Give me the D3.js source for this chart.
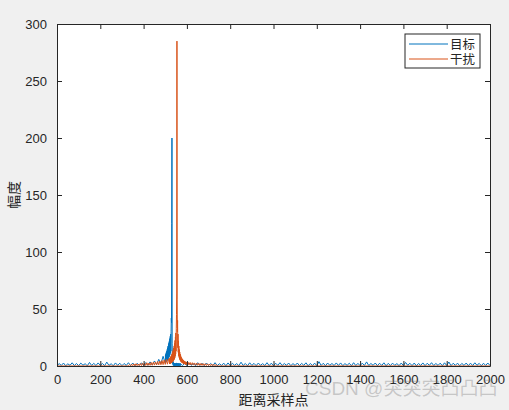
<!DOCTYPE html>
<html><head><meta charset="utf-8">
<script src="https://cdn.jsdelivr.net/npm/d3@7"></script>
<style>html,body{margin:0;padding:0;background:#f0f0f0;}svg{display:block;}</style>
</head><body>
<script>
// ---- data ----
const seriesNames = ["目标", "干扰"];
const xTicks = [0,200,400,600,800,1000,1200,1400,1600,1800,2000];
const yTicks = [0,50,100,150,200,250,300];
// blue (目标) background noise, samples 0..2000 step 10
const blueBase = [
0.3,2.1,0.5,2.6,0.2,1.9,0.6,2.8,0.4,2.2,
0.3,2.5,0.7,2.0,0.2,3.1,0.5,2.3,0.4,2.7,
0.6,2.2,0.3,3.4,0.5,2.0,0.2,2.7,0.6,2.4,
0.3,2.2,0.5,2.9,0.4,2.6,0.2,2.3,0.5,2.8,
0.4,3.0,0.6,3.6,0.8,4.4,1.2,5.8,2.0,8.5,
0,0,0,0,0,0,0,0,0.4,2.3,
0.3,2.5,0.6,2.1,0.2,2.9,0.5,2.4,0.3,2.6,
0.6,2.2,0.4,2.9,0.3,2.0,0.5,2.5,0.2,2.7,
0.4,2.4,0.6,2.1,0.3,3.3,0.5,2.2,0.2,2.8,
0.5,2.3,0.3,2.6,0.6,2.1,0.4,2.9,0.3,2.5,
0.2,2.4,0.5,2.9,0.4,2.2,0.6,2.6,0.3,2.1,
0.5,2.6,0.3,2.3,0.6,2.8,0.2,2.2,0.4,2.5,
0.3,3.8,0.5,2.4,0.2,2.6,0.6,2.2,0.4,2.7,
0.5,2.7,0.3,2.1,0.6,2.4,0.2,2.9,0.4,2.3,
0.3,2.5,0.5,3.6,0.4,2.2,0.6,2.6,0.3,2.4,
0.5,2.8,0.2,2.3,0.4,2.5,0.6,2.1,0.3,2.6,
0.4,3.1,0.6,2.4,0.3,2.6,0.2,2.2,0.5,2.7,
0.3,2.4,0.6,2.9,0.4,2.2,0.5,2.5,0.2,2.8,
0.4,3.5,0.3,2.4,0.6,2.5,0.2,2.3,0.5,2.6,
0.3,2.5,0.4,2.8,0.6,2.3,0.2,2.4,0.5,2.6,
0.4];
// blue peak region, samples 500..570 step 1
const bluePeak = [
2.5,9.5,3.0,10.8,3.6,11.9,4.0,13.0,4.6,14.5,
5.0,16.0,5.8,17.5,6.4,19.0,7.2,20.5,8.0,22.0,
9.0,24.0,10.0,26.0,11.5,28.0,13.0,30.0,42.0,38.0,
125,200,20,3.0,6.0,1.5,4.0,0.6,3.2,0.4,
2.1,0.3,2.6,0.5,1.8,0.2,2.4,0.6,2.2,0.3,
1.9,0.4,2.7,0.5,2.1,0.3,2.3,0.6,2.0,0.2,
2.5,0.4,1.8,0.3,2.2,0.5,1.6,0.4,2.4,0.2,
1.9];
// orange (干扰) noise, samples 330..515 step 5
const orangeLeft = [
0.2,1.2,0.2,1.5,0.3,1.8,0.3,2.0,0.3,1.7,
0.4,2.2,0.4,2.5,0.5,2.4,0.5,2.8,0.6,2.6,
0.6,3.1,0.7,3.3,0.8,3.6,0.9,3.9,1.0,4.3,
1.1,4.8,1.2,5.2,1.4,5.8,1.6,6.3];
// orange peak region, samples 520..600 step 1
const orangePeak = [
1.8,6.8,2.0,7.4,2.2,8.0,2.4,8.8,2.7,9.6,
3.0,10.5,3.3,11.6,3.7,12.8,4.1,14.2,4.6,15.8,
5.2,17.6,6.0,19.8,7.0,22.4,8.5,25.5,10.5,29.0,
13.0,33.0,45.0,64.0,285,58.0,30.0,40.0,16.0,28.0,
12.0,22.0,9.0,17.5,7.5,14.5,6.2,12.2,5.3,10.5,
4.6,9.2,4.0,8.1,3.6,7.3,3.2,6.6,2.9,6.0,
2.6,5.5,2.4,5.1,2.2,4.7,2.0,4.4,1.9,4.1,
1.7,3.9,1.6,3.7,1.5,3.5,1.4,3.3,1.3,3.2,1.2];
// orange noise, samples 605..740 step 5
const orangeRight = [
3.4,1.0,3.1,0.9,2.9,0.8,2.7,0.7,2.6,0.6,
2.4,0.6,2.3,0.5,2.1,0.5,2.0,0.4,1.9,0.4,
1.7,0.3,1.6,0.3,1.4,0.2,1.2,0.2];

// ---- assemble series (sample index, value) ----
let blue = [];
blueBase.forEach((v,i)=>{ const s=i*10; if(s<500||s>570) blue.push([s,v]); });
bluePeak.forEach((v,i)=>blue.push([500+i,v]));
blue.sort((a,b)=>a[0]-b[0]);
let orange = [[0,0],[325,0]];
orangeLeft.forEach((v,i)=>orange.push([330+i*5,v]));
orangePeak.forEach((v,i)=>orange.push([520+i,v]));
orangeRight.forEach((v,i)=>orange.push([605+i*5,v]));
orange.push([745,0],[2000,0]);

// ---- drawing ----
const W=509,H=410;
const m={l:57,r:490,t:24,b:366};
const svg=d3.select("body").append("svg").attr("width",W).attr("height",H);
svg.append("rect").attr("width",W).attr("height",H).attr("fill","#f0f0f0");
svg.append("rect").attr("x",m.l).attr("y",m.t).attr("width",m.r-m.l).attr("height",m.b-m.t).attr("fill","#fff");

const x=d3.scaleLinear().domain([0,2000]).range([m.l,m.r]);
const y=d3.scaleLinear().domain([0,300]).range([m.b,m.t]);

svg.append("clipPath").attr("id","c").append("rect")
  .attr("x",m.l).attr("y",m.t).attr("width",m.r-m.l).attr("height",m.b-m.t);
const line=d3.line().x(d=>x(d[0])).y(d=>y(d[1]));
const g=svg.append("g").attr("clip-path","url(#c)");
g.append("path").datum(blue).attr("d",line).attr("fill","none").attr("stroke","#0072BD").attr("stroke-width",1);
g.append("path").datum(orange).attr("d",line).attr("fill","none").attr("stroke","#D95319").attr("stroke-width",1);

const axCol="#262626";
const font="Liberation Sans, Arial, Helvetica, sans-serif";
const xb=svg.append("g").attr("transform",`translate(0,${m.b})`)
  .call(d3.axisBottom(x).tickValues(xTicks).tickFormat(d3.format("d")).tickSizeInner(-5).tickSizeOuter(0).tickPadding(9));
const xt=svg.append("g").attr("transform",`translate(0,${m.t})`)
  .call(d3.axisTop(x).tickValues(xTicks).tickFormat("").tickSizeInner(-5).tickSizeOuter(0));
const yl=svg.append("g").attr("transform",`translate(${m.l},0)`)
  .call(d3.axisLeft(y).tickValues(yTicks).tickSizeInner(-5).tickSizeOuter(0).tickPadding(10));
const yr=svg.append("g").attr("transform",`translate(${m.r},0)`)
  .call(d3.axisRight(y).tickValues(yTicks).tickFormat("").tickSizeInner(-5).tickSizeOuter(0));
[xb,xt,yl,yr].forEach(a=>{
  a.selectAll("path").attr("stroke",axCol).attr("stroke-width",1);
  a.selectAll("line").attr("stroke",axCol).attr("stroke-width",1);
  a.selectAll("text").attr("fill",axCol).attr("font-family",font).attr("font-size",13);
});

// axis labels
svg.append("text").attr("x",(m.l+m.r)/2).attr("y",405).attr("text-anchor","middle")
  .attr("font-family","Noto Sans CJK SC, sans-serif").attr("font-size",14).attr("fill",axCol).text("距离采样点");
svg.append("text").attr("transform",`translate(19,${(m.t+m.b)/2}) rotate(-90)`).attr("text-anchor","middle")
  .attr("font-family","Noto Sans CJK SC, sans-serif").attr("font-size",14).attr("fill",axCol).text("幅度");

// legend
const lg=svg.append("g");
lg.append("rect").attr("x",405).attr("y",34).attr("width",75).attr("height",34).attr("fill","#fff").attr("stroke",axCol).attr("stroke-width",1);
const colors=["#0072BD","#D95319"];
seriesNames.forEach((n,i)=>{
  const yy=44+i*15;
  lg.append("line").attr("x1",409).attr("x2",448).attr("y1",yy).attr("y2",yy).attr("stroke",colors[i]).attr("stroke-width",1);
  lg.append("text").attr("x",450).attr("y",yy+4.5).attr("font-family","Noto Sans CJK SC, sans-serif").attr("font-size",12.5).attr("fill",axCol).text(n);
});

// watermark
svg.append("text").attr("x",305).attr("y",395).attr("font-family","Liberation Sans, Noto Sans CJK SC, sans-serif")
  .attr("font-size",19).attr("fill","rgba(120,120,120,0.35)").text("CSDN @突突突凸凸凸");
</script>
</body></html>
